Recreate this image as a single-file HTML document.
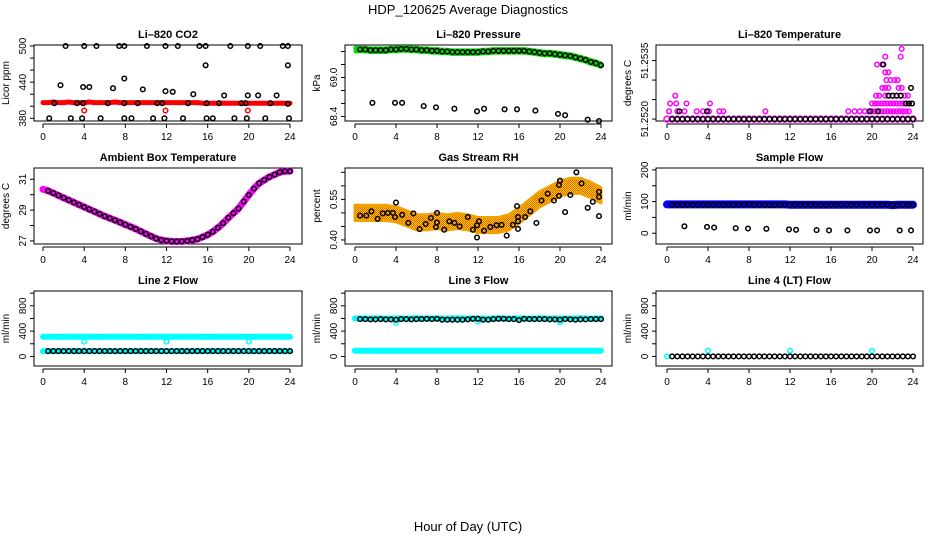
<!DOCTYPE html>
<html><head><meta charset="utf-8"><style>
html,body{margin:0;padding:0;background:#fff}
svg{display:block;font-family:"Liberation Sans",sans-serif}
</style></head><body>
<svg id="chart" width="936" height="540" viewBox="0 0 936 540" xmlns="http://www.w3.org/2000/svg">
<defs>
<pattern id="rhPat" width="2" height="2" patternUnits="userSpaceOnUse">
<rect width="2" height="2" fill="#ffd000"/><rect width="1" height="1" fill="#e86000"/><rect x="1" y="1" width="1" height="1" fill="#e86000"/>
</pattern>
</defs>
<text x="468" y="14" text-anchor="middle" font-size="13">HDP_120625  Average Diagnostics</text>
<text x="468" y="531" text-anchor="middle" font-size="13">Hour of Day (UTC)</text>
</svg>
<script>
// ---- shared data ----
const hours = [0,0.5,1,1.5,2,2.5,3,3.5,4,4.5,5,5.5,6,6.5,7,7.5,8,8.5,9,9.5,10,10.5,11,11.5,12,12.5,13,13.5,14,14.5,15,15.5,16,16.5,17,17.5,18,18.5,19,19.5,20,20.5,21,21.5,22,22.5,23,23.5,24];
const xTicks = [0,4,8,12,16,20,24];
// CO2
const co2Red = [406,406,407,406,406,407,406,406,406,407,406,406,406,406,407,406,406,406,406,406,406,406,406,406,406,406,406,406,406,406,406,405,405,405,405,405,405,405,405,405,405,405,405,405,405,405,405,405,405];
const co2RedOut = [[4,393],[11.9,393],[19.9,393]];
const co2Black = [[2.2,500],[4.0,500],[5.2,500],[7.4,500],[7.9,500],[10.1,500],[11.9,500],[13.1,500],[15.2,500],[15.8,500],[18.2,500],[19.9,500],[21.1,500],[23.3,500],[23.8,500],
[0.6,380],[2.7,380],[3.8,380],[5.6,380],[7.9,380],[8.6,380],[10.7,380],[11.8,380],[13.6,380],[15.9,380],[16.5,380],[18.6,380],[19.8,380],[21.6,380],[23.9,380],
[1.7,435],[3.9,432],[4.5,432],[6.8,430],[7.9,446],[9.7,428],[11.9,425],[12.6,424],[14.6,420],[15.8,468],[17.6,418],[19.9,418],[20.9,418],[22.7,418],[23.8,468],
[1.1,405],[3.3,405],[3.9,405],[6.3,405],[7.9,405],[9.2,405],[11.1,405],[11.6,405],[14.1,405],[15.9,405],[17.1,405],[19.3,405],[19.7,405],[22.1,405],[23.8,404]];
// Pressure
const presMid = [69.43,69.43,69.43,69.42,69.42,69.42,69.42,69.43,69.43,69.44,69.44,69.43,69.43,69.42,69.42,69.41,69.41,69.40,69.40,69.39,69.39,69.39,69.39,69.39,69.39,69.40,69.40,69.41,69.41,69.41,69.41,69.41,69.41,69.41,69.40,69.39,69.38,69.37,69.37,69.36,69.35,69.34,69.33,69.31,69.29,69.27,69.24,69.22,69.19];
const presOut = [[1.7,68.61],[3.9,68.61],[4.6,68.61],[6.7,68.56],[7.9,68.54],[9.7,68.52],[11.9,68.48],[12.6,68.52],[14.6,68.51],[15.8,68.51],[17.6,68.49],[19.8,68.44],[20.5,68.42],[22.7,68.35],[23.8,68.33]];
// Li-820 temperature
const tempBase = [51.2520,51.2520,51.2520,51.2520,51.2520,51.2520,51.2520,51.2520,51.2520,51.2520,51.2520,51.2520,51.2520,51.2520,51.2520,51.2520,51.2520,51.2520,51.2520,51.2520,51.2520,51.2520,51.2520,51.2520,51.2520,51.2520,51.2520,51.2520,51.2520,51.2520,51.2520,51.2520,51.2520,51.2520,51.2520,51.2520,51.2520,51.2520,51.2520,51.2520,51.2520,51.2520,51.2520,51.2520,51.2520,51.2520,51.2520,51.2520,51.2520];
const tempMagenta = [[0.2,51.2522],[0.3,51.2524],[0.8,51.2526],[0.9,51.2524],[1.0,51.2522],[1.7,51.2522],[1.9,51.2524],[2.9,51.2522],[3.5,51.2522],[4.1,51.2522],[4.2,51.2524],[5.1,51.2522],[5.5,51.2522],[9.6,51.2522],[17.7,51.2522],[18.3,51.2522],[18.8,51.2522],[19.3,51.2522],[19.7,51.2522],
[20.0,51.2522],[20.3,51.2522],[20.6,51.2522],[20.9,51.2522],[21.2,51.2522],[21.5,51.2522],[21.8,51.2522],[22.1,51.2522],[22.4,51.2522],[22.7,51.2522],[23.0,51.2522],[23.3,51.2522],[23.6,51.2522],
[20.0,51.2524],[20.3,51.2524],[20.6,51.2524],[20.9,51.2524],[21.2,51.2524],[21.5,51.2524],[21.8,51.2524],[22.1,51.2524],[22.4,51.2524],[22.7,51.2524],[23.0,51.2524],[23.3,51.2524],[23.6,51.2524],[23.9,51.2524],
[20.4,51.2526],[20.7,51.2526],[21.3,51.2526],[21.6,51.2526],[22.0,51.2526],[22.4,51.2526],[22.8,51.2526],[23.2,51.2526],[23.5,51.2526],
[21.0,51.2528],[21.3,51.2528],[21.6,51.2528],[22.6,51.2528],[22.9,51.2528],
[21.4,51.2530],[21.8,51.2530],[22.2,51.2530],[22.5,51.2530],
[21.3,51.2532],[21.6,51.2532],[20.5,51.2534],[21.0,51.2534],[21.3,51.2536],[22.8,51.2536],[22.9,51.2538]];
const tempBlack = [[1.2,51.2522],[3.9,51.2522],[19.8,51.2522],[20.6,51.2522],[21.1,51.2534],[21.6,51.2526],[22.0,51.2526],[22.4,51.2526],[22.8,51.2526],[23.3,51.2524],[23.6,51.2524],[23.9,51.2524],[23.8,51.2528]];
// Ambient
const ambient = [30.35,30.25,30.1,29.95,29.8,29.65,29.5,29.35,29.2,29.05,28.9,28.75,28.6,28.47,28.34,28.2,28.06,27.92,27.78,27.62,27.46,27.3,27.15,27.05,27.0,26.97,26.96,26.97,27.0,27.05,27.12,27.25,27.4,27.6,27.86,28.15,28.5,28.8,29.1,29.55,29.98,30.4,30.74,30.95,31.15,31.3,31.45,31.52,31.52];
// Gas stream RH
const rhHours = [0,1,2,3,4,5,6,7,8,9,10,11,12,13,14,15,16,17,18,19,20,21,22,23,24];
const rhMid = [0.50,0.50,0.50,0.50,0.495,0.48,0.465,0.465,0.47,0.465,0.47,0.465,0.455,0.455,0.455,0.465,0.49,0.52,0.55,0.57,0.59,0.60,0.60,0.585,0.565];
const rhBlack = [[0.5,0.49],[1.1,0.49],[1.6,0.506],[2.2,0.478],[2.7,0.498],[3.2,0.50],[3.7,0.50],[3.9,0.485],[4.0,0.538],[4.6,0.493],[5.2,0.463],[5.7,0.498],[6.3,0.44],[6.9,0.459],[7.4,0.481],[7.9,0.448],[8.0,0.465],[8.0,0.50],[8.7,0.438],[9.2,0.469],[9.7,0.463],[10.2,0.45],[11.0,0.485],[11.5,0.438],[11.9,0.454],[11.9,0.409],[12.1,0.469],[12.6,0.434],[13.2,0.448],[13.8,0.454],[14.3,0.456],[14.8,0.416],[15.4,0.456],[15.8,0.525],[15.9,0.485],[15.9,0.441],[15.9,0.469],[16.6,0.485],[17.1,0.506],[17.7,0.463],[18.2,0.546],[18.8,0.571],[19.4,0.546],[19.9,0.563],[19.9,0.603],[20.0,0.619],[20.5,0.503],[21.0,0.566],[21.6,0.65],[22.1,0.609],[22.7,0.519],[23.2,0.541],[23.8,0.578],[23.8,0.559],[23.8,0.488]];
// Sample flow
const sampleBlue = [91,91,91,91,91,91,91,91,91,91,91,91,91,91,91,91,91,91,91,91,91,91,91,91,90,90,90,90,90,90,90,90,90,90,90,90,90,90,90,90,90,90,90,90,89,90,90,90,90];
const sampleBlack = [90,90,90,90,90,90,90,90,90,90,90,90,90,90,90,91,91,90,90,90,89,89,90,90,90,90,90,90,90,90,89,89,90,90,90,90,90,90,90,90,90,90,90,90,89,89,90,90,90];
const sampleOut = [[1.7,22],[3.9,20],[4.6,18],[6.7,16],[7.9,15],[9.7,14],[11.9,12],[12.6,11],[14.6,10],[15.8,9],[17.6,9],[19.8,9],[20.5,9],[22.7,9],[23.8,9]];
// Line flows
const line2Cyan = [310,312,310,308,310,312,310,311,310,312,310,308,310,312,310,311,310,312,310,308,310,312,310,311,312,310,312,310,311,310,312,310,308,310,312,310,311,310,312,310,308,310,312,310,311,310,312,310,310];
const line2CyanLow = [85,85,85,85,85,85,85,85,85,85,85,85,85,85,85,85,85,85,85,85,85,85,85,85,85,85,85,85,85,85,85,85,85,85,85,85,85,85,85,85,85,85,85,85,85,85,85,85,85];
const line2CyanOut = [[4,235],[12,235],[20,235]];
const line2Black = [85,85,85,85,85,85,85,85,85,85,85,85,85,85,85,85,85,85,85,85,85,85,85,85,85,85,85,85,85,85,85,85,85,85,85,85,85,85,85,85,85,85,85,85,85,85,85,85,85];
const line3Cyan = [600,600,598,600,602,600,598,600,600,600,598,600,602,600,598,600,600,600,598,600,602,600,598,600,600,600,598,600,602,600,598,600,600,600,598,600,602,600,598,600,600,600,598,600,602,600,598,600,600];
const line3CyanLow = [90,90,90,90,90,90,90,90,90,90,90,90,90,90,90,90,90,90,90,90,90,90,90,90,90,90,90,90,90,90,90,90,90,90,90,90,90,90,90,90,90,90,90,90,90,90,90,90,90];
const line3CyanOut = [[4,528],[12,550],[20,540]];
const line3Black = [590,590,590,585,585,590,585,585,580,590,590,585,590,590,595,590,595,580,580,580,580,580,585,595,595,580,580,590,595,595,590,590,575,595,590,590,590,590,585,585,580,590,585,580,585,585,590,590,590];
const line4Cyan = [[0,0],[4,90],[12,90],[20,90]];
const line4Black = [0,0,0,0,0,0,0,0,0,0,0,0,0,0,0,0,0,0,0,0,0,0,0,0,0,0,0,0,0,0,0,0,0,0,0,0,0,0,0,0,0,0,0,0,0,0,0,0,0];
// axis ticks / labels
const co2Ticks = [380,400,420,440,460,480,500], co2Labels = ["380","440","500"];
const presTicks = [68.4,68.6,68.8,69.0,69.2,69.4], presLabels = ["68.4","69.0"];
const tempTicks = [51.2520,51.2525,51.2530,51.2535], tempLabels = ["51.2520","51.2535"];
const ambTicks = [27,28,29,30,31], ambLabels = ["27","29","31"];
const rhTicks = [0.40,0.45,0.50,0.55,0.60,0.65], rhLabels = ["0.40","0.55"];
const sfTicks = [0,50,100,150,200], sfLabels = ["0","100","200"];
const lfTicks = [0,200,400,600,800,1000], lfLabels = ["0","400","800"];

const NS = "http://www.w3.org/2000/svg";
const svg = document.getElementById("chart");
function el(tag, attrs, parent){const e=document.createElementNS(NS,tag);for(const k in attrs)e.setAttribute(k,attrs[k]);(parent||svg).appendChild(e);return e;}

const cols = [{l:34,r:302,x0:43,x24:290},{l:345,r:612,x0:355,x24:601},{l:656,r:923,x0:667,x24:913}];
const rows = [{t:45,b:121},{t:168,b:244},{t:291,b:366}];

function panel(ci, ri, name, title, ylab, ylo, yhi, ticks, labels){
  const c=cols[ci], r=rows[ri];
  const g=el("g",{});
  
  
  const xs=h=>c.x0+h*(c.x24-c.x0)/24;
  const ys=v=>r.b-(v-ylo)*(r.b-r.t)/(yhi-ylo);
  const t=el("text",{x:(c.l+c.r)/2,y:r.t-7,"text-anchor":"middle","font-size":11,"font-weight":"bold"},g);
  t.textContent=title;
  
  
  const yl=el("text",{transform:`translate(${c.l-25},${(r.t+r.b)/2}) rotate(-90)`,"text-anchor":"middle","font-size":10},g);
  yl.textContent=ylab;
  
  
  const ax=el("g",{stroke:"#000","stroke-width":1},g);
  
  
  el("line",{x1:xs(0),x2:xs(24),y1:r.b+3,y2:r.b+3},ax);
  xTicks.forEach(h=>{
    el("line",{x1:xs(h),x2:xs(h),y1:r.b+3,y2:r.b+7},ax);
    const tl=el("text",{x:xs(h),y:r.b+19,"text-anchor":"middle","font-size":10,stroke:"none"},g);
    tl.textContent=String(h);
    
    
  });
  el("line",{x1:c.l,x2:c.l,y1:ys(ticks[0]),y2:ys(ticks[ticks.length-1])},ax);
  ticks.forEach(v=>{el("line",{x1:c.l-4,x2:c.l,y1:ys(v),y2:ys(v)},ax);});
  labels.forEach(s=>{
    const v=parseFloat(s);
    const tl=el("text",{transform:`translate(${c.l-8},${ys(v)}) rotate(-90)`,"text-anchor":"middle","font-size":10},g);
    tl.textContent=s;
    
    
  });
  const box=el("rect",{x:c.l,y:r.t,width:c.r-c.l,height:r.b-r.t,fill:"none",stroke:"#000"},g);
  
  
  const marks=el("g",{},g);
  
  
  return {g:marks,xs,ys};
}
function band(p, xsArr, vals, color, w, nm){
  const pts=vals.map((v,i)=>p.xs(xsArr[i]).toFixed(1)+","+p.ys(v).toFixed(1)).join(" ");
  const pl=el("polyline",{points:pts,fill:"none",stroke:color,"stroke-width":w,"stroke-linejoin":"round","stroke-linecap":"round"},p.g);
  
  
}
function area(p, xsArr, mid, half, fill, nm){
  const up=mid.map((v,i)=>p.xs(xsArr[i]).toFixed(1)+","+p.ys(v+half).toFixed(1));
  const lo=mid.map((v,i)=>p.xs(xsArr[i]).toFixed(1)+","+p.ys(v-half).toFixed(1)).reverse();
  const pg=el("polygon",{points:up.concat(lo).join(" "),fill:fill,stroke:fill==="url(#rhPat)"?"#f0a000":fill,"stroke-width":3,"stroke-linejoin":"round"},p.g);
  
  
}
function pts(p, pairs, color, nm, rr){
  pairs.forEach(d=>{
    const c=el("circle",{cx:p.xs(d[0]).toFixed(1),cy:p.ys(d[1]).toFixed(1),r:rr||2.3,fill:"none",stroke:color,"stroke-width":1.5},p.g);
    
    
  });
}
function series(xsArr, vals, from){return vals.map((v,i)=>[xsArr[i],v]).slice(from||0);}

// 1 CO2
let p=panel(0,0,"co2","Li\u2013820 CO2","Licor ppm",375.5,501.7,co2Ticks,co2Labels);
band(p,hours,co2Red,"#ff0000",5,"co2-red-band");
pts(p,co2RedOut,"#ff0000","co2-red-point");
pts(p,co2Black,"#000","co2-black-point");
// 2 Pressure
p=panel(1,0,"pressure","Li\u2013820 Pressure","kPa",68.33,69.5,presTicks,presLabels);
area(p,hours,presMid,0.035,"#00dd00","pressure-green-band");
pts(p,series(hours,presMid,1),"#000","pressure-black-point");
pts(p,presOut,"#000","pressure-outlier-point");
// 3 Temperature
p=panel(2,0,"li820-temp","Li\u2013820 Temperature","degrees C",51.25195,51.2539,tempTicks,tempLabels);
pts(p,series(hours,tempBase),"#ff00ff","temp-magenta-point",3);
pts(p,tempMagenta,"#ff00ff","temp-magenta-point");
pts(p,series(hours,tempBase,1),"#000","temp-black-point");
pts(p,tempBlack,"#000","temp-black-point");
// 4 Ambient
p=panel(0,1,"ambient","Ambient Box Temperature","degrees C",26.8,31.73,ambTicks,ambLabels);
band(p,hours,ambient,"#ff00ff",7,"ambient-magenta-band");
pts(p,series(hours,ambient,1),"#000","ambient-black-point");
// 5 RH
p=panel(1,1,"rh","Gas Stream RH","percent",0.385,0.666,rhTicks,rhLabels);
area(p,rhHours,rhMid,0.028,"url(#rhPat)","rh-orange-band");
pts(p,rhBlack,"#000","rh-black-point");
// 6 Sample flow
p=panel(2,1,"sample-flow","Sample Flow","ml/min",-34,206,sfTicks,sfLabels);
band(p,hours,sampleBlue,"#0000ff",8,"sample-blue-band");
pts(p,series(hours,sampleBlack,1),"#000","sample-black-point");
pts(p,sampleOut,"#000","sample-outlier-point");
// 7 Line 2
p=panel(0,2,"line2","Line 2 Flow","ml/min",-151,1034,lfTicks,lfLabels);
band(p,hours,line2Cyan,"#00ffff",6,"line2-cyan-band");
band(p,hours,line2CyanLow,"#00ffff",6,"line2-cyan-low-band");
pts(p,line2CyanOut,"#00ffff","line2-cyan-point");
pts(p,series(hours,line2Black,1),"#000","line2-black-point");
// 8 Line 3
p=panel(1,2,"line3","Line 3 Flow","ml/min",-151,1034,lfTicks,lfLabels);
band(p,hours,line3Cyan,"#00ffff",6,"line3-cyan-band");
band(p,hours,line3CyanLow,"#00ffff",6,"line3-cyan-low-band");
pts(p,line3CyanOut,"#00ffff","line3-cyan-point");
pts(p,series(hours,line3Black,1),"#000","line3-black-point");
// 9 Line 4
p=panel(2,2,"line4","Line 4 (LT) Flow","ml/min",-151,1034,lfTicks,lfLabels);
pts(p,line4Cyan,"#00ffff","line4-cyan-point");
pts(p,series(hours,line4Black,1),"#000","line4-black-point");
</script>
</body></html>
